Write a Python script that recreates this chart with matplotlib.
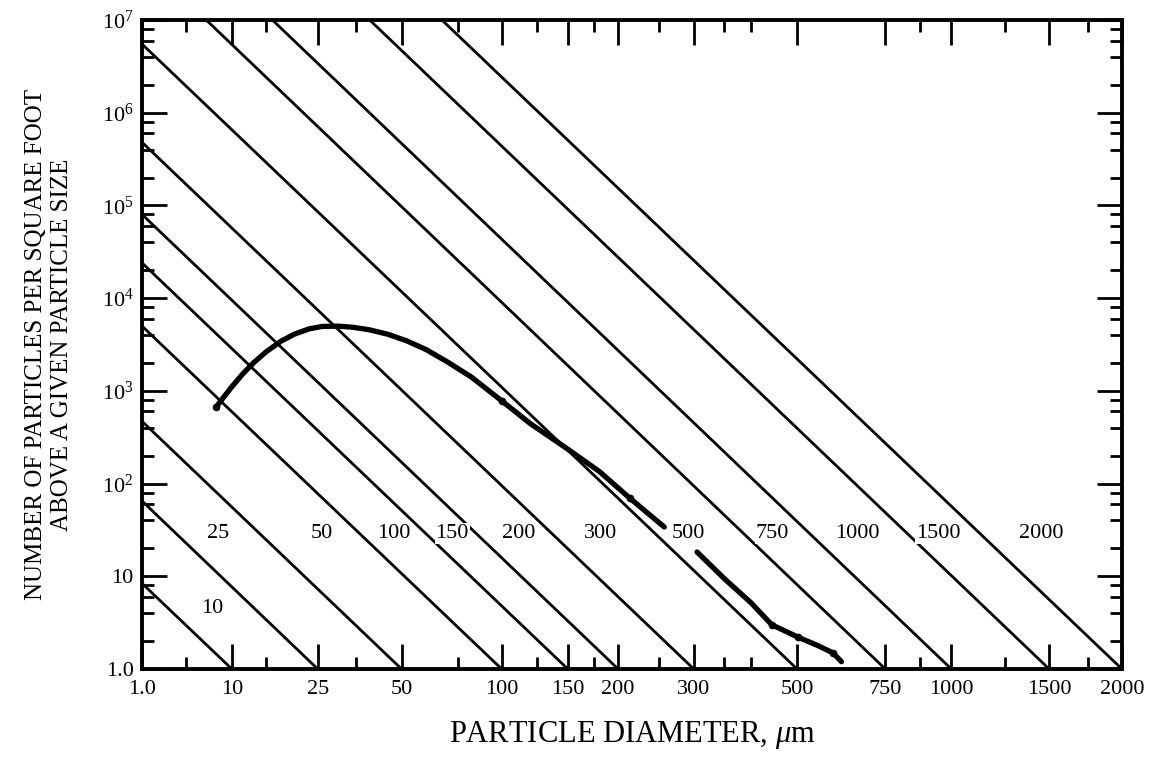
import numpy as np
import matplotlib
matplotlib.use('Agg')
import matplotlib.pyplot as plt
from matplotlib.ticker import FixedLocator, FixedFormatter, LogLocator, NullFormatter

plt.rcParams.update({
    'font.family': ['Liberation Serif', 'DejaVu Serif'],
    'mathtext.fontset': 'custom',
    'mathtext.rm': 'Liberation Serif',
    'mathtext.it': 'Liberation Serif:italic',
})

# ── cleanliness level lines: start point, end at N = 1, d = level ──
levels = [10, 25, 50, 100, 150, 200, 300, 500, 750, 1000, 1500, 2000]
line_start_d = [1, 1, 1, 1, 1, 1, 1, 1, 7.0, 16, 39, 67]
line_start_n = [8.4, 65, 470, 5000, 24000, 80000, 480000, 5.5e6, 1e7, 1e7, 1e7, 1e7]

# label positions for each level line
label_d = [7.6, 8.3, 26, 47, 72, 111, 181, 291, 444, 660, 945, 1450]
label_n = [4.5, 29, 29, 29, 29, 29, 29, 29, 29, 29, 29, 29]

# ── measured distribution curve (two pieces, break at the "500" label) ──
curve1_d = [8.1, 9, 10, 11.5, 13, 15, 17.5, 20, 23, 26, 30, 34, 39, 45, 52, 60,
            70, 82, 100, 120, 150, 180, 213, 257]
curve1_n = [670, 860, 1110, 1540, 2010, 2650, 3430, 4080, 4650, 4950, 4990, 4850,
            4550, 4080, 3460, 2780, 2030, 1410, 780, 440, 235, 135, 70, 34]
curve2_d = [305, 350, 400, 443, 503, 550, 592, 615]
curve2_n = [18.3, 9.5, 5.2, 3.0, 2.2, 1.8, 1.49, 1.2]

# small hand-drawn blobs on the curve
mark_d = [8.1, 100, 213, 443, 503, 592]
mark_n = [670, 780, 70, 3.0, 2.2, 1.49]

x_major = [1, 10, 25, 50, 100, 150, 200, 300, 500, 750, 1000, 1500, 2000]
x_major_lbl = ['1.0', '10', '25', '50', '100', '150', '200', '300', '500', '750', '1000', '1500', '2000']
x_minor = [5, 15, 35, 75, 125, 175, 250, 350, 400, 875, 1250, 1750]
y_major = [1, 10, 1e2, 1e3, 1e4, 1e5, 1e6, 1e7]
y_major_lbl = ['1.0', '10', r'$10^2$', r'$10^3$', r'$10^4$', r'$10^5$', r'$10^6$', r'$10^7$']


def fwd(x):
    x = np.asarray(x, dtype=float)
    with np.errstate(divide='ignore', invalid='ignore'):
        lg = np.log10(np.where(x > 0, x, 1e-300))
    return np.sign(lg) * lg ** 2


def inv(y):
    y = np.asarray(y, dtype=float)
    return 10 ** (np.sign(y) * np.sqrt(np.abs(y)))


fig = plt.figure(figsize=(11.6, 7.62), dpi=100)
ax = fig.add_axes([0.1224, 0.122, 0.8448, 0.8518])
ax.set_xscale('function', functions=(fwd, inv))
ax.set_yscale('log')
ax.set_xlim(1, 2000)
ax.set_ylim(1, 1e7)

for L, d0, n0 in zip(levels, line_start_d, line_start_n):
    ax.plot([d0, L], [n0, 1], color='black', lw=2.0, solid_capstyle='butt', zorder=2)

ax.plot(curve1_d, curve1_n, color='black', lw=3.8, solid_capstyle='round',
        solid_joinstyle='round', zorder=3)
ax.plot(curve2_d, curve2_n, color='black', lw=3.8, solid_capstyle='round',
        solid_joinstyle='round', zorder=3)
ax.plot(mark_d, mark_n, ls='none', marker='o', ms=4.5, color='black', zorder=3)

for L, xd, yn in zip(levels, label_d, label_n):
    ax.text(xd, yn, str(L), fontsize=16, ha='center', va='center', zorder=4,
            bbox=dict(facecolor='white', edgecolor='none', pad=0.5))

ax.xaxis.set_major_locator(FixedLocator(x_major))
ax.xaxis.set_major_formatter(FixedFormatter(x_major_lbl))
ax.xaxis.set_minor_locator(FixedLocator(x_minor))
ax.xaxis.set_minor_formatter(NullFormatter())
ax.yaxis.set_major_locator(FixedLocator(y_major))
ax.yaxis.set_major_formatter(FixedFormatter(y_major_lbl))
ax.yaxis.set_minor_locator(LogLocator(base=10, subs=[2, 4, 6, 8], numticks=20))
ax.yaxis.set_minor_formatter(NullFormatter())

ax.tick_params(which='both', direction='in', top=True, right=True, width=2.0, labelsize=16)
ax.tick_params(which='major', length=18)
ax.tick_params(which='minor', length=8.5)
ax.tick_params(axis='x', which='major', pad=8)
ax.tick_params(axis='y', which='major', pad=6)
for sp in ax.spines.values():
    sp.set_linewidth(2.8)

ax.set_xlabel(r'PARTICLE DIAMETER, $\mu$m', fontsize=22, labelpad=14)
fig.text(0.042, 0.548, 'NUMBER OF PARTICLES PER SQUARE FOOT\nABOVE A GIVEN PARTICLE SIZE',
         rotation=90, fontsize=18, ha='center', va='center', multialignment='center',
         linespacing=1.25)

fig.savefig('out.png', dpi=100)
